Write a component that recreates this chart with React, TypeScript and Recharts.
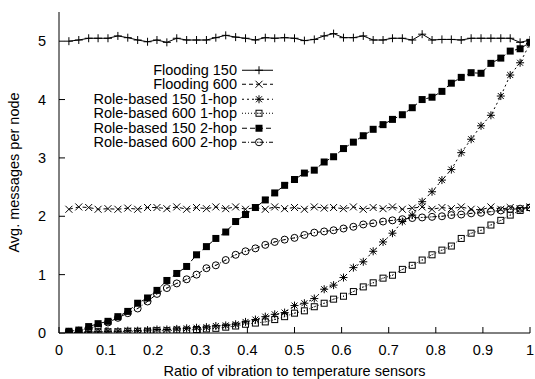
import React from 'react';
import { LineChart, Line, XAxis, YAxis, Legend } from 'recharts';

const ratios = [
  0.021, 0.042, 0.063, 0.083, 0.104, 0.125, 0.146, 0.167, 0.188, 0.208, 0.229, 0.25,
  0.271, 0.292, 0.313, 0.333, 0.354, 0.375, 0.396, 0.417, 0.438, 0.458, 0.479, 0.5,
  0.521, 0.542, 0.563, 0.583, 0.604, 0.625, 0.646, 0.667, 0.688, 0.708, 0.729, 0.75,
  0.771, 0.792, 0.813, 0.833, 0.854, 0.875, 0.896, 0.917, 0.938, 0.958, 0.979, 1.0,
];

const flooding150 = [
  5.00, 5.02, 5.05, 5.05, 5.05, 5.09, 5.06, 5.02, 4.99, 5.02, 4.98, 5.05,
  5.02, 5.02, 5.02, 5.06, 5.10, 5.07, 5.05, 5.02, 5.06, 5.05, 5.06, 5.05,
  5.01, 5.03, 5.09, 5.13, 5.06, 5.06, 5.09, 5.02, 5.02, 5.05, 5.05, 5.02,
  5.12, 5.02, 5.03, 5.03, 5.02, 5.05, 5.05, 5.05, 5.05, 5.05, 4.98, 5.02,
];

const flooding600 = [
  2.12, 2.16, 2.15, 2.12, 2.13, 2.12, 2.14, 2.12, 2.15, 2.15, 2.13, 2.16,
  2.12, 2.15, 2.13, 2.16, 2.13, 2.16, 2.12, 2.15, 2.12, 2.16, 2.13, 2.15,
  2.12, 2.16, 2.14, 2.15, 2.13, 2.16, 2.12, 2.15, 2.13, 2.16, 2.12, 2.14,
  2.16, 2.12, 2.15, 2.13, 2.16, 2.12, 2.11, 2.16, 2.12, 2.15, 2.13, 2.16,
];

const role150OneHop = [
  0.01, 0.01, 0.02, 0.02, 0.03, 0.03, 0.04, 0.04, 0.05, 0.06, 0.06, 0.07,
  0.08, 0.09, 0.10, 0.12, 0.13, 0.15, 0.19, 0.23, 0.28, 0.32, 0.35, 0.47,
  0.51, 0.59, 0.75, 0.82, 0.95, 1.12, 1.22, 1.40, 1.56, 1.71, 1.91, 2.02,
  2.25, 2.42, 2.62, 2.80, 3.09, 3.32, 3.55, 3.73, 4.06, 4.42, 4.63, 4.96,
];

const role600OneHop = [
  0.01, 0.01, 0.01, 0.02, 0.02, 0.02, 0.03, 0.03, 0.03, 0.04, 0.04, 0.05,
  0.05, 0.06, 0.07, 0.08, 0.10, 0.12, 0.15, 0.17, 0.19, 0.23, 0.28, 0.34,
  0.38, 0.45, 0.51, 0.58, 0.63, 0.71, 0.79, 0.86, 0.94, 0.99, 1.09, 1.16,
  1.25, 1.34, 1.42, 1.49, 1.62, 1.71, 1.76, 1.85, 1.93, 2.02, 2.10, 2.15,
];

const role150TwoHop = [
  0.03, 0.05, 0.11, 0.16, 0.20, 0.28, 0.37, 0.51, 0.60, 0.73, 0.90, 1.02,
  1.14, 1.34, 1.48, 1.62, 1.73, 1.91, 2.03, 2.15, 2.28, 2.40, 2.53, 2.63,
  2.74, 2.79, 2.93, 3.02, 3.16, 3.27, 3.38, 3.49, 3.57, 3.66, 3.74, 3.86,
  4.00, 4.04, 4.14, 4.28, 4.38, 4.46, 4.45, 4.62, 4.71, 4.83, 4.87, 4.98,
];

const role600TwoHop = [
  0.02, 0.04, 0.08, 0.12, 0.18, 0.26, 0.34, 0.42, 0.54, 0.67, 0.77, 0.85,
  0.92, 1.00, 1.11, 1.16, 1.25, 1.34, 1.40, 1.45, 1.51, 1.56, 1.60, 1.63,
  1.68, 1.72, 1.74, 1.76, 1.79, 1.82, 1.86, 1.88, 1.91, 1.93, 1.95, 1.97,
  1.98, 1.99, 2.00, 2.02, 2.03, 2.05, 2.06, 2.08, 2.10, 2.12, 2.13, 2.15,
];

const seriesNames = [
  'Flooding 150',
  'Flooding 600',
  'Role-based 150 1-hop',
  'Role-based 600 1-hop',
  'Role-based 150 2-hop',
  'Role-based 600 2-hop',
];

const xTicks = [0, 0.1, 0.2, 0.3, 0.4, 0.5, 0.6, 0.7, 0.8, 0.9, 1];
const xTickLabels = ['0', '0.1', '0.2', '0.3', '0.4', '0.5', '0.6', '0.7', '0.8', '0.9', '1'];
const yTicks = [0, 1, 2, 3, 4, 5];
const yTickLabels = ['0', '1', '2', '3', '4', '5'];

const xTitle = 'Ratio of vibration to temperature sensors';
const yTitle = 'Avg. messages per node';

const FONT = '"Liberation Sans", Arial, Helvetica, sans-serif';
const FS = 14.5;
const LEG_FS = 14.5;
const ROW = 14.5;
const K = '#000';

type MarkerType = 'plus' | 'cross' | 'star' | 'box' | 'fbox' | 'circle';

const series: { key: string; name: string; values: number[]; marker: MarkerType; dash?: string }[] = [
  { key: 'f150', name: seriesNames[0], values: flooding150, marker: 'plus' },
  { key: 'f600', name: seriesNames[1], values: flooding600, marker: 'cross', dash: '4 3' },
  { key: 'r150a', name: seriesNames[2], values: role150OneHop, marker: 'star', dash: '2 3' },
  { key: 'r600a', name: seriesNames[3], values: role600OneHop, marker: 'box', dash: '1 2' },
  { key: 'r150b', name: seriesNames[4], values: role150TwoHop, marker: 'fbox', dash: '5 3' },
  { key: 'r600b', name: seriesNames[5], values: role600TwoHop, marker: 'circle', dash: '4 2 1 2' },
];

const data = ratios.map((r, i) => {
  const row: Record<string, number> = { r };
  series.forEach((s) => {
    row[s.key] = s.values[i];
  });
  return row;
});

function drawMarker(type: MarkerType, cx: number, cy: number, key?: string | number) {
  switch (type) {
    case 'plus':
      return (
        <path key={key} d={`M${cx - 4},${cy}H${cx + 4}M${cx},${cy - 4}V${cy + 4}`} stroke={K} strokeWidth={1} fill="none" />
      );
    case 'cross':
      return (
        <path
          key={key}
          d={`M${cx - 3.5},${cy - 3.5}L${cx + 3.5},${cy + 3.5}M${cx - 3.5},${cy + 3.5}L${cx + 3.5},${cy - 3.5}`}
          stroke={K}
          strokeWidth={1}
          fill="none"
        />
      );
    case 'star':
      return (
        <path
          key={key}
          d={`M${cx - 4},${cy}H${cx + 4}M${cx},${cy - 4}V${cy + 4}M${cx - 3},${cy - 3}L${cx + 3},${cy + 3}M${cx - 3},${cy + 3}L${cx + 3},${cy - 3}`}
          stroke={K}
          strokeWidth={1}
          fill="none"
        />
      );
    case 'box':
      return (
        <g key={key}>
          <rect x={cx - 3} y={cy - 3} width={6} height={6} stroke={K} strokeWidth={1} fill="none" />
          <rect x={cx - 0.5} y={cy - 0.5} width={1} height={1} fill={K} />
        </g>
      );
    case 'fbox':
      return <rect key={key} x={cx - 3.5} y={cy - 3.5} width={7} height={7} fill={K} />;
    case 'circle':
      return (
        <g key={key}>
          <circle cx={cx} cy={cy} r={3.5} stroke={K} strokeWidth={1} fill="none" />
          <rect x={cx - 0.5} y={cy - 0.5} width={1} height={1} fill={K} />
        </g>
      );
    default:
      return null;
  }
}

const BottomTick = (props: any) => {
  const { x, y, index } = props;
  return (
    <g>
      <line x1={x} x2={x} y1={y} y2={y - 6} stroke={K} strokeWidth={1} />
      <text x={x} y={y + 22} textAnchor="middle" fontSize={FS} fontFamily={FONT} fill={K}>
        {xTickLabels[index]}
      </text>
    </g>
  );
};

const TopTick = (props: any) => {
  const { x, y } = props;
  return <line x1={x} x2={x} y1={y} y2={y + 6} stroke={K} strokeWidth={1} />;
};

const LeftTick = (props: any) => {
  const { x, y, index } = props;
  return (
    <g>
      <line x1={x} x2={x + 6} y1={y} y2={y} stroke={K} strokeWidth={1} />
      <text x={x - 13} y={y + 5} textAnchor="end" fontSize={FS} fontFamily={FONT} fill={K}>
        {yTickLabels[index]}
      </text>
    </g>
  );
};

const RightTick = (props: any) => {
  const { x, y } = props;
  return <line x1={x} x2={x - 6} y1={y} y2={y} stroke={K} strokeWidth={1} />;
};

const XTitle = (props: any) => {
  const vb = props.viewBox || {};
  return (
    <text x={vb.x + vb.width / 2} y={vb.y + 43} textAnchor="middle" fontSize={FS} fontFamily={FONT} fill={K}>
      {xTitle}
    </text>
  );
};

const YTitle = (props: any) => {
  const vb = props.viewBox || {};
  const cx = vb.x + 19;
  const cy = vb.y + vb.height / 2;
  return (
    <text x={cx} y={cy} transform={`rotate(-90 ${cx} ${cy})`} textAnchor="middle" fontSize={FS} fontFamily={FONT} fill={K}>
      {yTitle}
    </text>
  );
};

const LegendContent = () => (
  <div style={{ fontFamily: FONT, fontSize: LEG_FS, color: K }}>
    {series.map((s) => (
      <div key={s.key} style={{ display: 'flex', height: ROW, alignItems: 'center' }}>
        <span style={{ width: 157, textAlign: 'right', whiteSpace: 'nowrap', lineHeight: `${ROW}px` }}>{s.name}</span>
        <svg width={40} height={ROW} style={{ display: 'block', overflow: 'visible' }}>
          <line x1={5} x2={36} y1={ROW / 2} y2={ROW / 2} stroke={K} strokeWidth={1} strokeDasharray={s.dash} />
          {drawMarker(s.marker, 22, ROW / 2)}
        </svg>
      </div>
    ))}
  </div>
);

export default function App() {
  return (
    <div style={{ position: 'absolute', left: 0, top: 0, width: 535, height: 379, background: '#fff' }}>
      <LineChart
        width={535}
        height={379}
        data={data}
        margin={{ top: 12, right: 5, bottom: 0, left: 0 }}
        style={{ fontFamily: FONT }}
      >
        <XAxis
          dataKey="r"
          type="number"
          domain={[0, 1]}
          ticks={xTicks}
          height={46}
          tickSize={0}
          tickMargin={0}
          tickLine={false}
          axisLine={{ stroke: K, strokeWidth: 1 }}
          tick={<BottomTick />}
          interval={0}
          allowDataOverflow
          label={<XTitle />}
        />
        <XAxis
          xAxisId="top"
          dataKey="r"
          type="number"
          orientation="top"
          domain={[0, 1]}
          ticks={xTicks}
          height={0}
          tickSize={0}
          tickMargin={0}
          tickLine={false}
          axisLine={{ stroke: K, strokeWidth: 1 }}
          tick={<TopTick />}
          interval={0}
          allowDataOverflow
        />
        <YAxis
          type="number"
          domain={[0, 5.5]}
          ticks={yTicks}
          width={59}
          tickSize={0}
          tickMargin={0}
          tickLine={false}
          axisLine={{ stroke: K, strokeWidth: 1 }}
          tick={<LeftTick />}
          interval={0}
          allowDataOverflow
          label={<YTitle />}
        />
        <YAxis
          yAxisId="right"
          type="number"
          orientation="right"
          domain={[0, 5.5]}
          ticks={yTicks}
          width={0}
          tickSize={0}
          tickMargin={0}
          tickLine={false}
          axisLine={{ stroke: K, strokeWidth: 1 }}
          tick={<RightTick />}
          interval={0}
          allowDataOverflow
        />
        <Legend
          layout="vertical"
          align="center"
          verticalAlign="middle"
          content={<LegendContent />}
          wrapperStyle={{ position: 'absolute', left: 80, top: 62.75, width: 200, height: 6 * ROW }}
        />
        {series.map((s) => (
          <Line
            key={s.key}
            dataKey={s.key}
            name={s.name}
            type="linear"
            stroke={K}
            strokeWidth={1}
            strokeDasharray={s.dash}
            isAnimationActive={false}
            activeDot={false}
            dot={(p: any) => drawMarker(s.marker, p.cx, p.cy, `${s.key}-${p.index}`)}
          />
        ))}
      </LineChart>
    </div>
  );
}
